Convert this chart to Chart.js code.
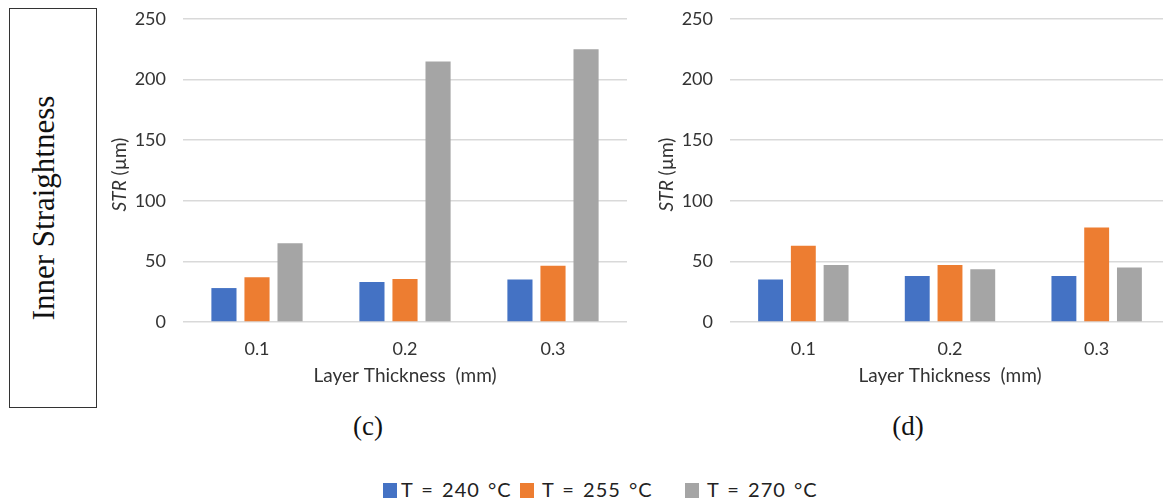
<!DOCTYPE html>
<html>
<head>
<meta charset="utf-8">
<script src="https://cdn.jsdelivr.net/npm/chart.js@4"></script>
<style>
    html, body { margin: 0; padding: 0; background: #fff; }
    body { width: 1163px; height: 504px; position: relative; overflow: hidden; }
    .side-box {
        position: absolute; left: 9px; top: 8px; width: 86px; height: 398px;
        border: 1.5px solid #333;
    }
    .side-box span {
        position: absolute; left: 50%; top: 50%;
        transform: translate(-50%, -50%) rotate(-90deg);
        white-space: nowrap;
        font-family: "Liberation Serif", serif; font-size: 31px; color: #111;
        margin-left: -9px;
    }
    .chart-wrap { position: absolute; top: 0; height: 395px; }
    .panel-label {
        position: absolute; top: 411px; transform: translateX(-50%);
        font-family: "Liberation Serif", serif; font-size: 27px; color: #111;
    }
    .legend-sq { position: absolute; top: 483px; width: 14px; height: 15px; }
    .legend-txt {
        position: absolute; top: 477px;
        font-family: Lato, sans-serif; font-size: 20px; color: #222;
        word-spacing: 2px; letter-spacing: 1px; white-space: nowrap;
    }
</style>
</head>
<body>
<div class="side-box"><span>Inner Straightness</span></div>

<div class="chart-wrap" style="left:100px;width:540px;"><canvas id="chartC"></canvas></div>
<div class="chart-wrap" style="left:640px;width:540px;"><canvas id="chartD"></canvas></div>

<div class="panel-label" style="left:368px;">(c)</div>
<div class="panel-label" style="left:908px;">(d)</div>

<div class="legend-sq" style="left:383px;background:#4472C4"></div>
<div class="legend-txt" style="left:401px;">T = 240 °C</div>
<div class="legend-sq" style="left:520px;background:#ED7D31"></div>
<div class="legend-txt" style="left:542px;">T = 255 °C</div>
<div class="legend-sq" style="left:685px;background:#A5A5A5"></div>
<div class="legend-txt" style="left:707px;">T = 270 °C</div>

<script>
// Data
const thickness = ['0.1', '0.2', '0.3'];
const seriesNames = ['T = 240 °C', 'T = 255 °C', 'T = 270 °C'];
const seriesColors = ['#4472C4', '#ED7D31', '#A5A5A5'];

// (c)
const strC240 = [28, 33, 35];
const strC255 = [37, 35.5, 46.5];
const strC270 = [65, 215, 225];

// (d)
const strD240 = [35, 38, 38];
const strD255 = [63, 47, 78];
const strD270 = [47, 43.5, 45];

const yMax = 250;
const yStep = 50;

// y title with italic "STR"
const yTitlePlugin = {
    id: 'yTitle',
    afterDraw(chart, args, opts) {
        const ctx = chart.ctx;
        const area = chart.chartArea;
        const italic = 'italic 19px Lato, sans-serif';
        const normal = '19px Lato, sans-serif';
        ctx.save();
        ctx.translate(opts.x, (area.top + area.bottom) / 2 + 4);
        ctx.rotate(-Math.PI / 2);
        ctx.fillStyle = '#333';
        ctx.textBaseline = 'middle';
        ctx.font = italic;
        const w1 = ctx.measureText('STR').width;
        ctx.font = normal;
        const w2 = ctx.measureText(' (µm)').width;
        let x = -(w1 + w2) / 2;
        ctx.font = italic;
        ctx.fillText('STR', x, 0);
        ctx.font = normal;
        ctx.fillText(' (µm)', x + w1, 0);
        ctx.restore();
    }
};

function makeChart(id, values, yAxisWidth, rightPad, titleX) {
    const ctx = document.getElementById(id).getContext('2d');
    return new Chart(ctx, {
        type: 'bar',
        data: {
            labels: thickness,
            datasets: values.map((v, i) => ({
                label: seriesNames[i],
                data: v,
                backgroundColor: seriesColors[i],
                categoryPercentage: 0.67,
                barPercentage: 0.76
            }))
        },
        options: {
            responsive: true,
            maintainAspectRatio: false,
            animation: false,
            layout: { padding: { top: 19, right: rightPad, left: 0, bottom: 0 } },
            plugins: {
                legend: { display: false },
                tooltip: { enabled: false },
                yTitle: { x: titleX }
            },
            scales: {
                x: {
                    grid: { display: false },
                    border: { display: false },
                    ticks: { color: '#333', padding: 8, font: { family: 'Lato', size: 18 } },
                    title: {
                        display: true,
                        text: 'Layer Thickness  (mm)',
                        color: '#333',
                        font: { family: 'Lato', size: 19 },
                        padding: { top: 0, bottom: 8 }
                    },
                    afterFit: s => { s.height = 73; }
                },
                y: {
                    min: 0,
                    max: yMax,
                    ticks: { stepSize: yStep, color: '#333', padding: 17, font: { family: 'Lato', size: 18 } },
                    grid: { color: '#d9d9d9', lineWidth: 1.5, drawTicks: false },
                    border: { display: false },
                    afterFit: s => { s.width = yAxisWidth; s.paddingTop = 0; s.paddingBottom = 0; }
                }
            }
        },
        plugins: [yTitlePlugin]
    });
}

makeChart('chartC', [strC240, strC255, strC270], 83, 13, 20);
makeChart('chartD', [strD240, strD255, strD270], 90, 10, 27);
</script>
</body>
</html>
